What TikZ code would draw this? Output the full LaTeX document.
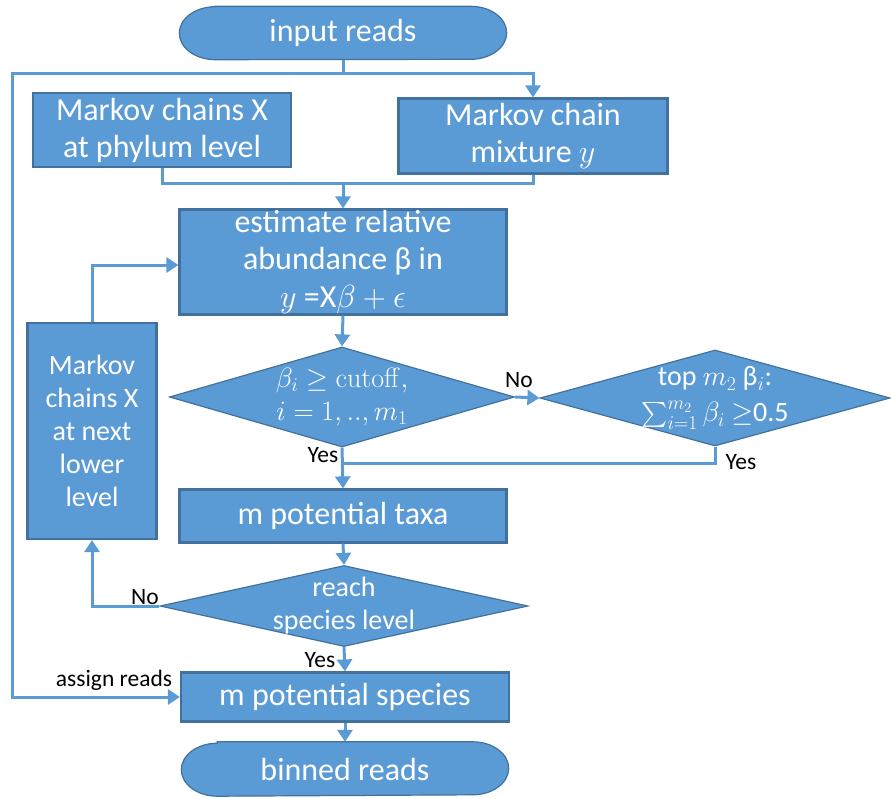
\RequirePackage{fix-cm}
\documentclass[tikz,border=0pt]{standalone}
\usepackage{exscale}
\usepackage[no-math]{fontspec}
\setmainfont{Carlito}
\usetikzlibrary{shapes.geometric,arrows.meta,backgrounds,calc}
\definecolor{boxfill}{HTML}{5B9BD5}
\definecolor{boxline}{HTML}{41719C}
\begin{document}
\begin{tikzpicture}[x=1pt,y=-1pt,
  box/.style={rectangle,fill=boxfill,draw=boxline,line width=2.2pt,text=white,align=center,inner sep=0pt,font=\fontsize{32}{37}\selectfont},
  term/.style={rectangle,text=white,align=center,inner sep=0pt,font=\fontsize{32}{37}\selectfont},
  dia/.style={diamond,fill=boxfill,draw=boxline,line width=1.2pt,inner sep=0pt},
  dtext/.style={text=white,align=center,inner sep=0pt,font=\fontsize{28}{33}\selectfont},
  conn/.style={draw=boxfill,line width=3pt},
  arr/.style={conn,-{Triangle[length=12pt,width=15pt]}},
  lab/.style={text=black,inner sep=0pt,font=\fontsize{23.5}{27}\selectfont}]
\useasboundingbox (0,0) rectangle (891,798);

% terminals
\node[term,minimum width=327pt,minimum height=53pt] (in) at (343,33) {input reads};
\node[term,minimum width=327pt,minimum height=54pt] (bin) at (345,769) {binned reads};
\begin{pgfonlayer}{background}
\foreach \n in {in,bin}{
  \path[fill=boxfill,draw=boxline,line width=1.2pt]
    ($(\n.north west)+(36,0)$) -- ($(\n.north east)+(-36,0)$)
    arc[start angle=90,end angle=-90,x radius=36pt,y radius=26.5pt]
    -- ($(\n.south west)+(36,0)$)
    arc[start angle=270,end angle=90,x radius=36pt,y radius=26.5pt] -- cycle;
}
\end{pgfonlayer}

% boxes
\node[box,minimum width=258pt,minimum height=74pt] (phy) at (162,130) {Markov chains X\\at phylum level};
\node[box,minimum width=269pt,minimum height=75pt] (mix) at (533,136) {Markov chain\\mixture $y$};
\node[box,minimum width=327pt,minimum height=105pt] (est) at (343,262) {estimate relative\\abundance β in\\[1pt]$y$ =X$\beta+\epsilon$};
\node[box,minimum width=129pt,minimum height=216pt,font=\fontsize{28}{33}\selectfont] (nl) at (92,431) {Markov\\chains X\\at next\\lower\\level};
\node[box,minimum width=327pt,minimum height=53pt] (taxa) at (343,516) {m potential taxa};
\node[box,minimum width=328pt,minimum height=49pt] (sp) at (345,697) {m potential species};

% diamonds
\node[dia,minimum width=345pt,minimum height=100pt] (d1) at (342,397) {};
\node[dtext] at (d1) {$\beta_i\geq\mathrm{cutoff},$\\$i=1,..,m_1$};
\node[dia,minimum width=350pt,minimum height=96pt] (d2) at (715,398) {};
\node[dtext] at (d2) {top $m_2$ β$_i$:\\[3pt]$\sum_{i=1}^{m_2}\beta_i$ $\geq$0.5};
\node[dia,minimum width=368pt,minimum height=81pt] (d3) at (344,606) {};
\node[dtext] at (d3) {reach\\species level};

% connectors
\coordinate (j1) at (343,73);
\coordinate (L) at (12.5,73);
\coordinate (j2) at (343,183);
\coordinate (j3) at (342,463);

\draw[conn] (in.south) -- (j1);
\draw[arr] (j1) -| (mix.north);
\draw[arr] (j1) -- (L) |- (sp.west);
\draw[conn] (phy.south) |- (j2);
\draw[conn] (mix.south) |- (j2);
\draw[arr] (j2) -- (est.north);
\draw[arr] (est.south) -- (d1.north);
\draw[arr] (d1.east) -- (d2.west);
\draw[arr] (d1.south) -- (taxa.north);
\draw[conn] (d2.south) |- (j3);
\draw[arr] (taxa.south) -- (d3.north);
\draw[arr] (d3.west) -| (nl.south);
\draw[arr] (nl.north) |- ($(est.west)+(0,3)$);
\draw[arr] (d3.south) -- (sp.north);
\draw[arr] (sp.south) -- (bin.north);

% labels
\node[lab] (lno1) at (519,380) {No};
\node[lab] (lyes1) at (323,455) {Yes};
\node[lab] (lyes2) at (741,462) {Yes};
\node[lab] (lno2) at (145,597) {No};
\node[lab] (lyes3) at (320,660) {Yes};
\node[lab] (lass) at (114,680) {assign reads};
\end{tikzpicture}
\end{document}
